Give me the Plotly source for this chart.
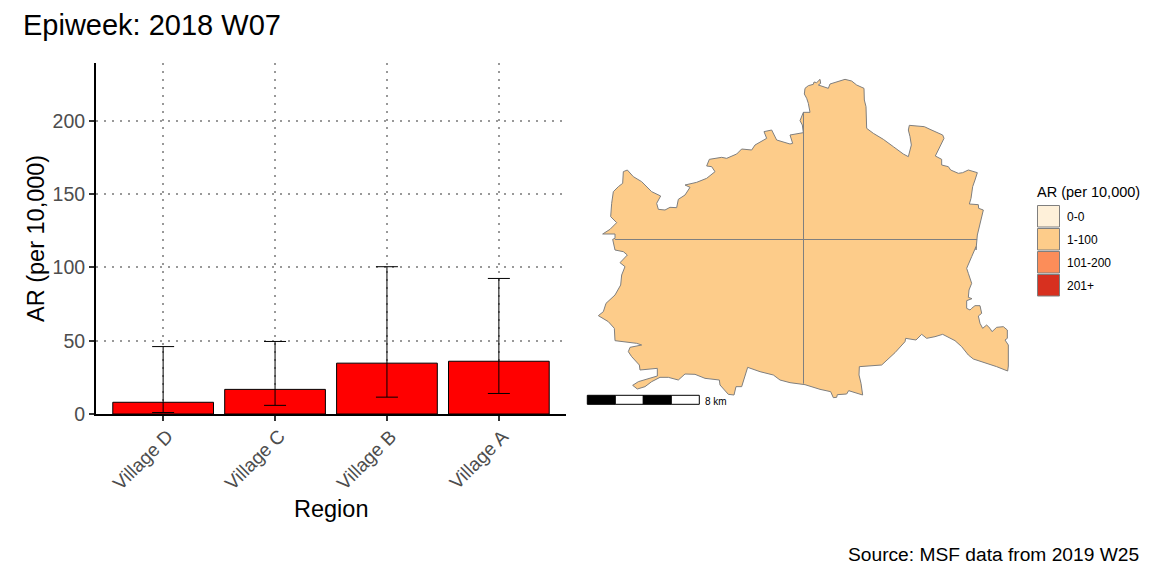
import plotly.graph_objects as go

W, H = 1152, 576

# ---- data ----
regions = ["Village D", "Village C", "Village B", "Village A"]
ar_values = [8, 16.8, 34.7, 36]
ar_lower = [1, 5.9, 11.5, 14]
ar_upper = [46, 49.5, 100.5, 92.5]
y_ticks = [0, 50, 100, 150, 200]

legend_labels = ["0-0", "1-100", "101-200", "201+"]
legend_colors = ["#FEF0D9", "#FDCC8A", "#FC8D59", "#D7301F"]

# outline, one list per quadrant: (origin of reading, points at 3x)
outline_ne = [(40,127),(60,127),(55,100),(50,85),(43,72),(45,55),(55,47),(70,43),(72,36),(80,38),(90,28),(92,40),(85,45),(105,52),(115,55),(120,42),(145,33),(165,28),(185,33),(200,45),(222,55),(223,90),(228,110),(230,175),(250,190),(280,208),(310,230),(340,252),(355,260),(360,240),(364,225),(360,200),(355,180),(358,166),(380,167),(403,170),(420,178),(440,187),(458,195),(462,205),(455,220),(445,240),(436,258),(455,268),(455,285),(475,290),(482,300),(505,310),(518,308),(535,300),(562,308),(555,330),(548,350),(543,385),(538,402),(565,404),(566,415),(580,420),(570,460),(562,495),(558,540)]
outline_se = [(558,20),(545,50),(530,85),(535,100),(545,130),(537,150),(535,172),(546,176),(538,180),(530,182),(530,205),(540,210),(545,205),(555,197),(570,197),(575,220),(565,228),(570,250),(578,265),(590,255),(600,265),(606,275),(620,262),(640,260),(652,270),(652,295),(645,300),(655,315),(655,378),(653,393),(620,380),(580,367),(550,357),(535,345),(515,320),(495,302),(470,290),(458,283),(435,290),(410,295),(395,283),(378,300),(347,295),(345,305),(315,338),(295,358),(275,375),(208,380),(207,405),(213,430),(218,465),(176,452),(170,462),(142,464),(140,472),(130,473),(122,455),(90,448),(45,434),(0,428)]
outline_sw = [(600,420),(580,405),(540,395),(503,382),(485,440),(468,440),(462,465),(445,463),(420,435),(418,420),(375,415),(345,403),(315,402),(295,420),(265,412),(240,412),(215,425),(195,440),(172,447),(158,436),(175,425),(232,408),(232,385),(180,390),(178,375),(155,350),(145,335),(150,322),(185,315),(170,310),(105,302),(103,265),(85,245),(55,227),(70,215),(78,190),(105,165),(122,135),(125,105),(135,80),(120,68),(142,45),(130,35),(105,30),(98,0)]
outline_nw = [(70,520),(68,508),(75,505),(75,492),(38,492),(60,478),(80,458),(62,440),(65,400),(70,365),(85,350),(98,340),(100,305),(112,300),(130,320),(155,335),(185,365),(212,378),(200,400),(205,418),(225,420),(240,412),(260,413),(265,388),(285,375),(300,352),(285,345),(320,337),(350,325),(375,305),(365,290),(350,288),(358,268),(395,262),(410,265),(440,252),(455,237),(485,240),(495,225),(530,205),(522,185),(545,180),(560,210),(600,222),(608,220),(600,195),(640,188),(637,165),(630,152),(640,127)]
divider_ns_km_y = [9.1, -10.3]
divider_ew_km_x = [-13.46, 12.4]
scale_km = [0, 2, 4, 6, 8]

# ---- helpers ----
def px(v): return v / W
def py(v): return 1 - v / H

KM = 14.0
CX, CY = 803.5, 239.5
def to_km(points, ox, oy):
    return ([(ox + a / 3 - CX) / KM for a, b in points],
            [(CY - (oy + b / 3)) / KM for a, b in points])

parts = [to_km(outline_ne, 790, 70), to_km(outline_se, 790, 240),
         to_km(outline_sw, 580, 240), to_km(outline_nw, 590, 70)]
map_x = sum((p[0] for p in parts), [])
map_y = sum((p[1] for p in parts), [])

fig = go.Figure()

fig.add_trace(go.Bar(
    x=regions, y=ar_values, width=0.9,
    marker=dict(color="#FF0000", line=dict(color="black", width=1)),
    error_y=dict(type="data", symmetric=False,
                 array=[u - v for u, v in zip(ar_upper, ar_values)],
                 arrayminus=[v - l for v, l in zip(ar_values, ar_lower)],
                 color="black", thickness=1, width=11),
    xaxis="x", yaxis="y", showlegend=False, hoverinfo="skip"))

fig.add_trace(go.Scatter(
    x=map_x, y=map_y, mode="lines", fill="toself", fillcolor=legend_colors[1],
    line=dict(color="#7F7F7F", width=1), xaxis="x2", yaxis="y2",
    showlegend=False, hoverinfo="skip"))
fig.add_trace(go.Scatter(
    x=[0, 0], y=divider_ns_km_y, mode="lines",
    line=dict(color="#7F7F7F", width=1), xaxis="x2", yaxis="y2",
    showlegend=False, hoverinfo="skip"))
fig.add_trace(go.Scatter(
    x=divider_ew_km_x, y=[0, 0], mode="lines",
    line=dict(color="#7F7F7F", width=1), xaxis="x2", yaxis="y2",
    showlegend=False, hoverinfo="skip"))

shapes = []
# scale bar
bar_y0, bar_y1 = (CY - 404.3) / KM, (CY - 395.3) / KM
bar_x0 = (587.3 - CX) / KM
for i in range(4):
    shapes.append(dict(type="rect", xref="x2", yref="y2",
                       x0=bar_x0 + scale_km[i], x1=bar_x0 + scale_km[i + 1],
                       y0=bar_y0, y1=bar_y1,
                       fillcolor="black" if i % 2 == 0 else "white",
                       line=dict(color="black", width=1)))

# legend swatches
swatch_tops = [205.5, 228.5, 251.5, 274.5]
annotations = []
for top, col, lab in zip(swatch_tops, legend_colors, legend_labels):
    shapes.append(dict(type="rect", xref="paper", yref="paper",
                       x0=px(1037.5), x1=px(1059.5), y0=py(top + 21.5), y1=py(top),
                       fillcolor=col, line=dict(color="#7F7F7F", width=1)))
    annotations.append(dict(xref="paper", yref="paper", x=px(1064.5), y=py(top + 11),
                            text=lab, showarrow=False, xanchor="left", yanchor="middle",
                            font=dict(size=12, color="black")))

# category labels: rotated, right end next to the tick
for name in regions:
    annotations.append(dict(xref="x", yref="paper", x=name, xshift=-20, y=py(459.5),
                            text=name, textangle=-45, showarrow=False,
                            xanchor="center", yanchor="middle",
                            font=dict(size=19, color="#4D4D4D")))

annotations += [
    dict(xref="paper", yref="paper", x=px(1034.5), y=py(191.5), text="AR (per 10,000)",
         showarrow=False, xanchor="left", yanchor="middle", font=dict(size=14.5, color="black")),
    dict(xref="x2", yref="y2", x=bar_x0 + scale_km[-1] + 0.25, y=(CY - 401) / KM, text="8 km",
         showarrow=False, xanchor="left", yanchor="middle", font=dict(size=10, color="black")),
    dict(xref="paper", yref="paper", x=px(1141), y=py(554), text="Source: MSF data from 2019 W25",
         showarrow=False, xanchor="right", yanchor="middle", font=dict(size=19.2, color="black")),
    dict(xref="paper", yref="paper", x=px(21), y=py(25), text="Epiweek: 2018 W07",
         showarrow=False, xanchor="left", yanchor="middle", font=dict(size=29, color="black")),
    dict(xref="paper", yref="paper", x=px(331), y=py(509), text="Region",
         showarrow=False, xanchor="center", yanchor="middle", font=dict(size=23.5, color="black")),
    dict(xref="paper", yref="paper", x=px(36), y=py(239), text="AR (per 10,000)", textangle=-90,
         showarrow=False, xanchor="center", yanchor="middle", font=dict(size=23.5, color="black")),
]

grid = dict(showgrid=True, gridcolor="#999999", gridwidth=2, griddash="2px,6px")
fig.update_layout(
    width=W, height=H, autosize=False,
    margin=dict(l=0, r=0, t=0, b=0, pad=0, autoexpand=False),
    paper_bgcolor="white", plot_bgcolor="white",
    font=dict(family="Liberation Sans, Arial, sans-serif"),
    bargap=0.1,
    shapes=shapes, annotations=annotations,
    xaxis=dict(domain=[px(96), px(566)], range=[-0.6, 3.6], type="category",
               categoryorder="array", categoryarray=regions, showticklabels=False,
               ticks="outside", ticklen=5, tickwidth=2, tickcolor="#333333",
               showline=True, linecolor="black", linewidth=2, anchor="y", zeroline=False,
               automargin=False, **grid),
    yaxis=dict(domain=[py(414), py(63)], range=[0, 239.5], tickvals=y_ticks,
               tickfont=dict(size=19.5, color="#4D4D4D"),
               ticks="outside", ticklen=5, tickwidth=2, tickcolor="#333333",
               showline=True, linecolor="black", linewidth=2, anchor="x", zeroline=False,
               automargin=False, **grid),
    xaxis2=dict(domain=[px(580), px(1020)], range=[(580 - CX) / KM, (1020 - CX) / KM],
                visible=False, anchor="y2"),
    yaxis2=dict(domain=[py(420), py(70)], range=[(CY - 420) / KM, (CY - 70) / KM],
                visible=False, anchor="x2"),
)

fig.write_html("out.html", post_script="document.body.style.margin='0';",
               config=dict(displayModeBar=False))
